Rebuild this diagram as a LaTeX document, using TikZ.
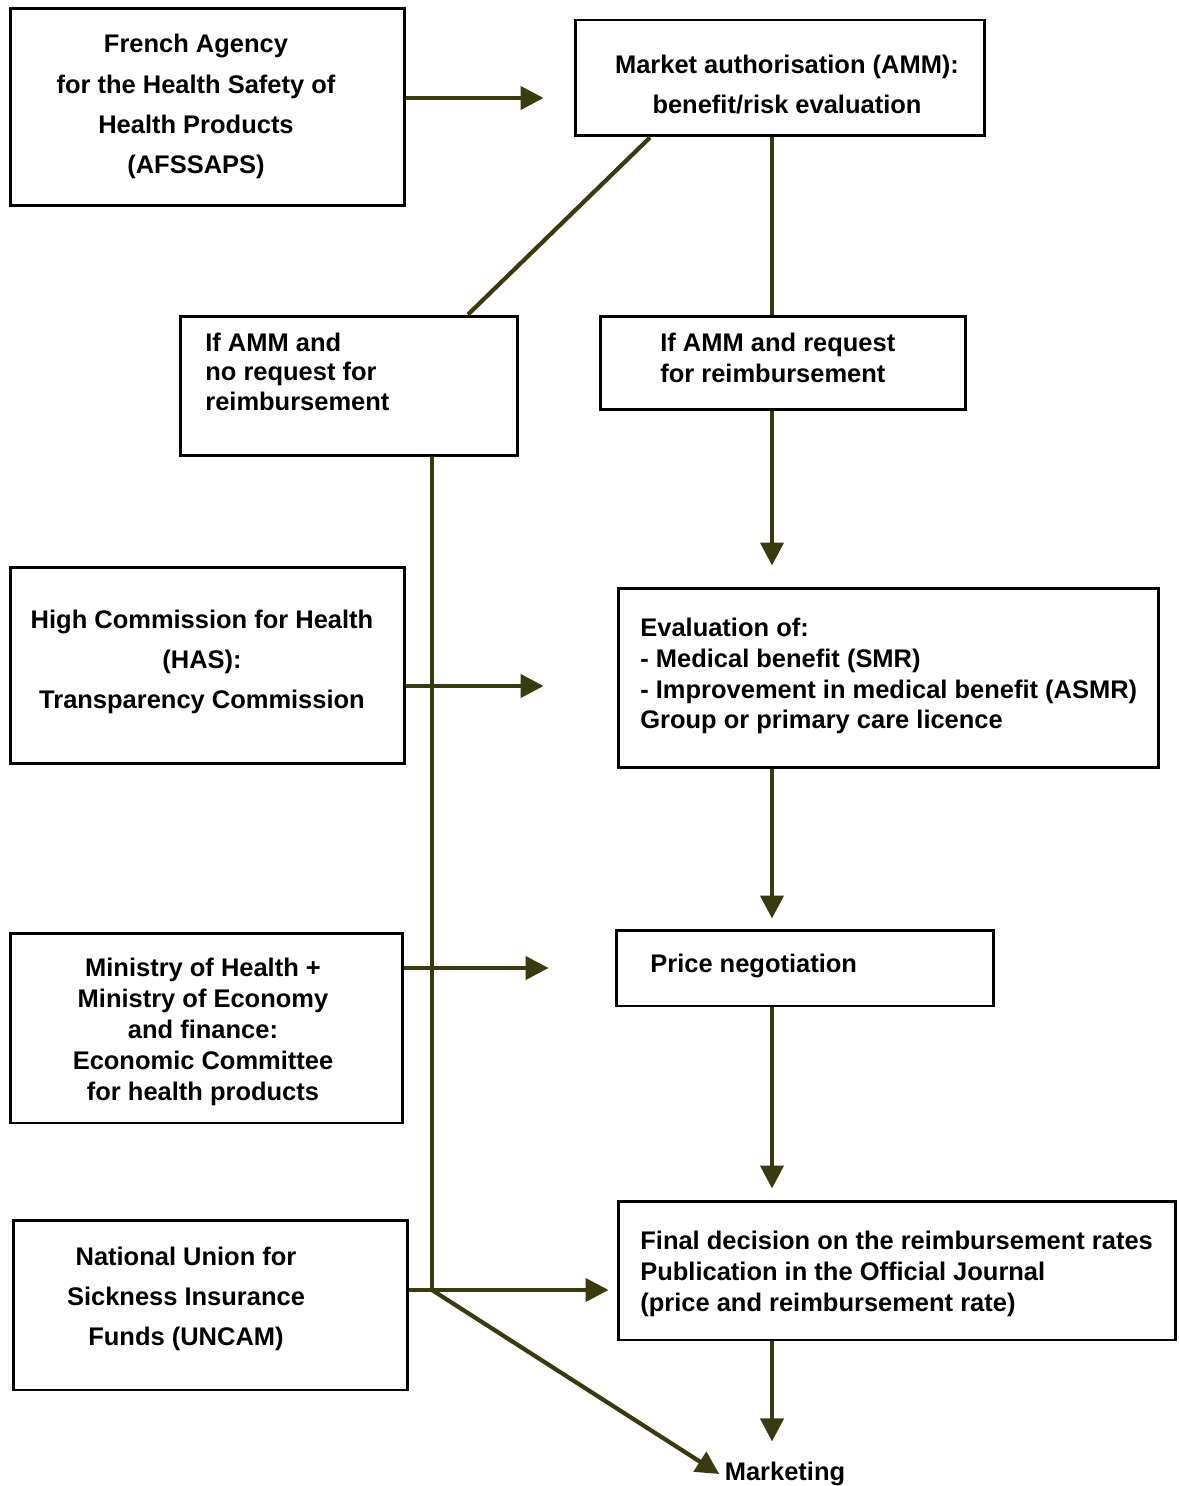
\documentclass[tikz,border=0pt]{standalone}
\usepackage{fontspec}
\setmainfont{Liberation Sans}
\usetikzlibrary{arrows.meta}
\definecolor{linkc}{RGB}{58,58,16}
\begin{document}
\begin{tikzpicture}[x=0.02cm,y=-0.02cm,
  box/.style={draw,line width=1.7pt,inner sep=0pt},
  txt/.style={inner sep=0pt,font=\bfseries\fontsize{14.5}{17.6}\selectfont},
  wide/.style={font=\bfseries\fontsize{14.5}{22.8}\selectfont},
  link/.style={linkc,line width=2.4pt},
  arr/.style={link,-{Triangle[length=0.46cm,width=0.46cm]}}]
\useasboundingbox (0,0) rectangle (1178,1486);
\node[box,minimum width=7.9cm,minimum height=3.96cm] (afssaps) at (207.5,107) {};
\node[txt,wide,align=center] (afssaps-t) at (196,106.5) {French Agency\\for the Health Safety of\\Health Products\\(AFSSAPS)};
\node[box,minimum width=8.2cm,minimum height=2.32cm] (amm) at (780,78) {};
\node[txt,wide,align=center] (amm-t) at (787,85) {Market authorisation (AMM):\\benefit/risk evaluation};
\node[box,minimum width=6.76cm,minimum height=2.8cm] (noreq) at (349,386) {};
\node[txt,font=\bfseries\fontsize{14.5}{16.8}\selectfont,align=left,anchor=west] (noreq-t) at (205,371.5) {If AMM and\\no request for\\reimbursement};
\node[box,minimum width=7.32cm,minimum height=1.88cm] (req) at (783,363) {};
\node[txt,align=left,anchor=west] (req-t) at (660,358) {If AMM and request\\for reimbursement};
\node[box,minimum width=7.9cm,minimum height=3.94cm] (has) at (207.5,665.5) {};
\node[txt,wide,align=center] (has-t) at (202,661.5) {High Commission for Health\\(HAS):\\Transparency Commission};
\node[box,minimum width=10.82cm,minimum height=3.6cm] (eval) at (888.5,678) {};
\node[txt,align=left,anchor=west] (eval-t) at (640,676) {Evaluation of:\\- Medical benefit (SMR)\\- Improvement in medical benefit (ASMR)\\Group or primary care licence};
\node[box,minimum width=7.86cm,minimum height=3.8cm] (minist) at (206.5,1028) {};
\node[txt,align=center] (minist-t) at (203,1032) {Ministry of Health +\\Ministry of Economy\\and finance:\\Economic Committee\\for health products};
\node[box,minimum width=7.56cm,minimum height=1.52cm] (price) at (805,968) {};
\node[txt,anchor=west] (price-t) at (650,966) {Price negotiation};
\node[box,minimum width=7.9cm,minimum height=3.4cm] (uncam) at (210.5,1305) {};
\node[txt,wide,align=center] (uncam-t) at (186,1299) {National Union for\\Sickness Insurance\\Funds (UNCAM)};
\node[box,minimum width=11.16cm,minimum height=2.78cm] (final) at (897,1270.5) {};
\node[txt,align=left,anchor=west] (final-t) at (640,1274) {Final decision on the reimbursement rates\\Publication in the Official Journal\\(price and reimbursement rate)};
\node[txt,inner sep=3pt] (mkt) at (785,1474) {Marketing};
\coordinate (mid) at (772,0);
\coordinate (slant) at (650,0);
\coordinate (kink) at (468,0);
\coordinate (spine) at (432,1290);
\draw[arr,shorten >=0.6cm] ([yshift=0.18cm]afssaps.east) -- ([yshift=0.18cm]afssaps.east -| amm.west);
\draw[link] (amm.south -| slant) -- (noreq.north -| kink);
\draw[link] (amm.south -| mid) -- (req.north -| mid);
\draw[arr,shorten >=0.42cm] (req.south -| mid) -- (eval.north -| mid);
\draw[link] (noreq.south -| spine) -- (spine);
\draw[arr,shorten >=1.46cm] ([yshift=-0.16cm]has.east |- eval.west) -- ([yshift=-0.16cm]eval.west);
\draw[arr,shorten >=0.2cm] (eval.south -| mid) -- (price.north -| mid);
\draw[arr,shorten >=1.32cm] (minist.east |- price.west) -- (price.west);
\draw[arr,shorten >=0.22cm] (price.south -| mid) -- (final.north -| mid);
\draw[arr,shorten >=0.16cm] (uncam.east |- spine) -- (final.west |- spine);
\draw[arr] (spine) -- (mkt.west);
\draw[arr,shorten >=0.3cm] (final.south -| mid) -- (mkt.north -| mid);
\end{tikzpicture}
\end{document}
